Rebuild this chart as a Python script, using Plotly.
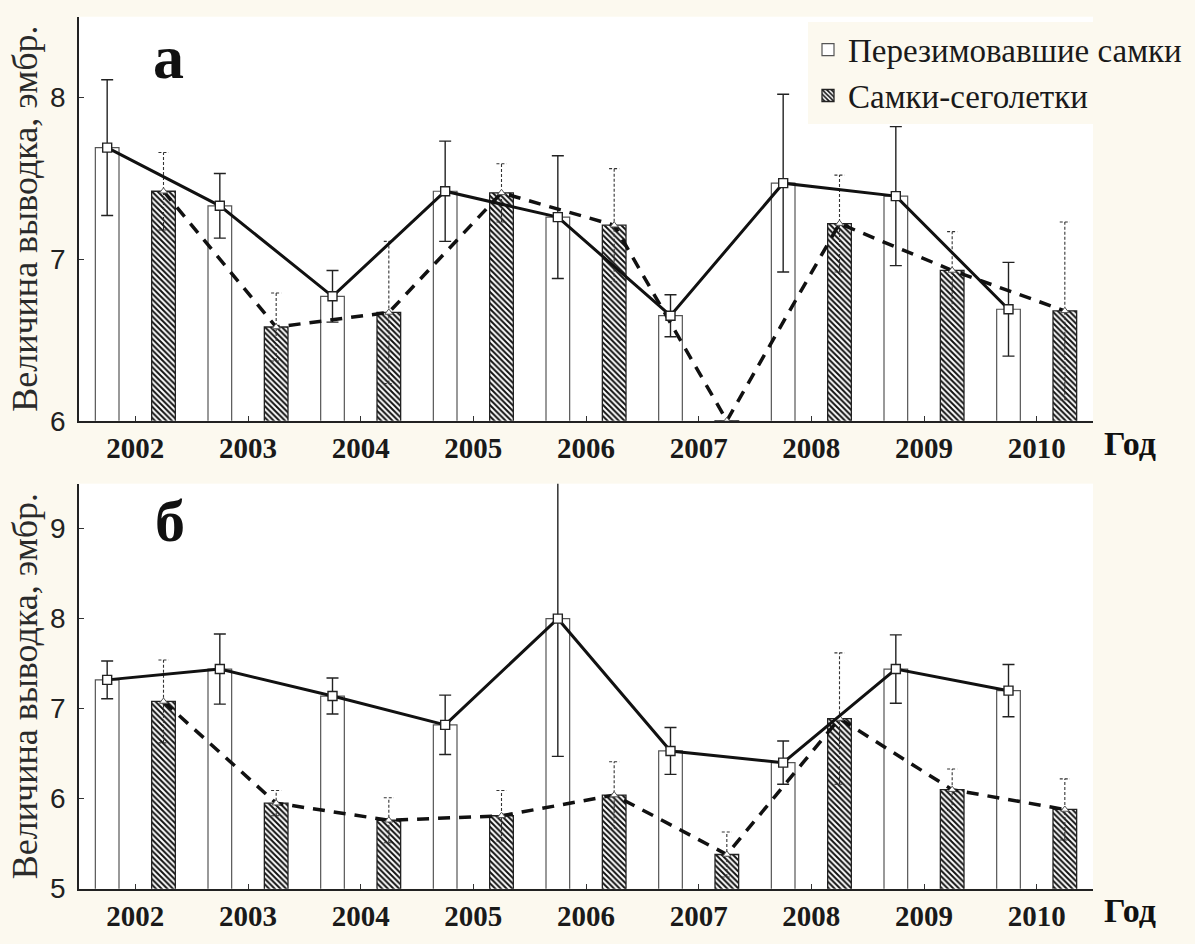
import plotly.graph_objects as go

# ---------------- data ----------------
years = ["2002", "2003", "2004", "2005", "2006", "2007", "2008", "2009", "2010"]

# panel a
a_over_mean = [7.69, 7.33, 6.77, 7.42, 7.26, 6.65, 7.47, 7.39, 6.69]
a_over_err = [0.42, 0.20, 0.16, 0.31, 0.38, 0.13, 0.55, 0.43, 0.29]
a_young_mean = [7.42, 6.58, 6.67, 7.41, 7.21, 6.00, 7.22, 6.93, 6.68]
a_young_err = [0.24, 0.21, 0.44, 0.18, 0.35, 0.00, 0.30, 0.24, 0.55]

# panel b
b_over_mean = [7.32, 7.44, 7.14, 6.82, 8.00, 6.53, 6.40, 7.44, 7.20]
b_over_err = [0.21, 0.39, 0.20, 0.33, 1.53, 0.26, 0.24, 0.38, 0.29]
b_young_mean = [7.08, 5.95, 5.76, 5.81, 6.04, 5.38, 6.89, 6.10, 5.88]
b_young_err = [0.46, 0.14, 0.25, 0.28, 0.37, 0.25, 0.73, 0.23, 0.34]

name_over = "Перезимовавшие самки"
name_young = "Самки-сеголетки"

# ---------------- style ----------------
W, H = 1195, 944
ML, MR = 79, 102
PW = W - ML - MR
PAPER = "#fcf9ef"
SERIF = "Liberation Serif, Times New Roman, serif"
SANS = "Liberation Sans, Arial, sans-serif"
OFF = 0.25
BW = 0.21
CAP = 0.045

idx = list(range(len(years)))
x_over = [i - OFF for i in idx]
x_young = [i + OFF for i in idx]


def dashed_err(xs, means, errs):
    px, py = [], []
    for x, m, e in zip(xs, means, errs):
        if e <= 0:
            continue
        px += [x, x, None, x - CAP, x + CAP, None, x - CAP, x + CAP, None]
        py += [m - e, m + e, None, m + e, m + e, None, m - e, m - e, None]
    return px, py


fig = go.Figure()

panels = [
    ("x", "y", a_over_mean, a_over_err, a_young_mean, a_young_err, True),
    ("x2", "y2", b_over_mean, b_over_err, b_young_mean, b_young_err, False),
]

for xa, ya, om, oe, ym, ye, show in panels:
    fig.add_trace(go.Bar(
        x=x_over, y=om, width=BW, xaxis=xa, yaxis=ya,
        name=name_over, showlegend=show, legendrank=1,
        marker=dict(color="white", line=dict(color="#555555", width=1.2)),
        error_y=dict(type="data", array=oe, visible=True, color="#222222",
                     thickness=1.4, width=6),
    ))
    fig.add_trace(go.Bar(
        x=x_young, y=ym, width=BW, xaxis=xa, yaxis=ya,
        name=name_young, showlegend=show, legendrank=2,
        marker=dict(color="white", line=dict(color="#222222", width=1.3),
                    pattern=dict(shape="\\", fgcolor="#111111", bgcolor="white",
                                 size=4, solidity=0.5, fillmode="replace")),
    ))
    ex, ey = dashed_err(x_young, ym, ye)
    fig.add_trace(go.Scatter(
        x=ex, y=ey, xaxis=xa, yaxis=ya, mode="lines", showlegend=False,
        line=dict(color="#333333", width=1.1, dash="3px,2px"), hoverinfo="skip",
    ))
    fig.add_trace(go.Scatter(
        x=x_young, y=ym, xaxis=xa, yaxis=ya, mode="lines+markers", showlegend=False,
        line=dict(color="#111111", width=3.5, dash="12px,9px"),
        marker=dict(symbol="triangle-up", size=7, color="white",
                    line=dict(color="#555555", width=1)),
    ))
    fig.add_trace(go.Scatter(
        x=x_over, y=om, xaxis=xa, yaxis=ya, mode="lines+markers", showlegend=False,
        line=dict(color="#111111", width=3),
        marker=dict(symbol="square", size=9, color="white",
                    line=dict(color="#222222", width=1.4)),
    ))

xcommon = dict(
    range=[-0.5, 8.5], tickmode="array", tickvals=idx, ticktext=years,
    showline=True, linecolor="#222222", linewidth=1.5, ticks="inside",
    ticklen=5, tickcolor="#333333", showgrid=False, zeroline=False,
    tickfont=dict(family=SERIF, size=29, color="#1a1a1a", weight="bold"),
    ticklabelstandoff=1,
)
ycommon = dict(
    showline=True, linecolor="#222222", linewidth=1.5, ticks="inside",
    ticklen=5, tickcolor="#333333", showgrid=False, zeroline=False,
    tickfont=dict(family=SANS, size=28, color="#222222"),
    ticklabelstandoff=6,
)

top_dom = [(H - 428) / H, (H - 17) / H]
bot_dom = [(H - 904) / H, (H - 492) / H]

fig.update_layout(
    width=W, height=H,
    margin=dict(l=ML, r=MR, t=0, b=0),
    paper_bgcolor=PAPER, plot_bgcolor="white",
    barmode="overlay",
    xaxis=dict(**xcommon, anchor="y"),
    yaxis=dict(**ycommon, domain=top_dom, range=[6, 8.5], tickvals=[6, 7, 8], anchor="x"),
    xaxis2=dict(**xcommon, anchor="y2"),
    yaxis2=dict(**ycommon, domain=bot_dom, range=[5, 9.5], tickvals=[5, 6, 7, 8, 9], anchor="x2"),
    legend=dict(
        x=(808 - ML) / PW, y=(H - 22) / H, xanchor="left", yanchor="top",
        font=dict(family=SERIF, size=33, color="#1a1a1a"),
        bgcolor=PAPER, borderwidth=0, tracegroupgap=0,
        itemwidth=30,
    ),
    showlegend=True,
)

ytitle = "Величина выводка, эмбр."
annotations = [
    dict(text=ytitle, xref="paper", yref="paper", x=(25 - ML) / PW,
         y=(top_dom[0] + top_dom[1]) / 2, textangle=-90, showarrow=False,
         xanchor="center", yanchor="middle",
         font=dict(family=SERIF, size=36, color="#2a2a2a")),
    dict(text=ytitle, xref="paper", yref="paper", x=(25 - ML) / PW,
         y=(bot_dom[0] + bot_dom[1]) / 2, textangle=-90, showarrow=False,
         xanchor="center", yanchor="middle",
         font=dict(family=SERIF, size=36, color="#2a2a2a")),
    dict(text="<b>а</b>", xref="paper", yref="paper", x=(168 - ML) / PW,
         y=(H - 58) / H, showarrow=False, xanchor="center", yanchor="middle",
         font=dict(family=SERIF, size=62, color="#111111")),
    dict(text="<b>б</b>", xref="paper", yref="paper", x=(170 - ML) / PW,
         y=(H - 530) / H, showarrow=False, xanchor="center", yanchor="middle",
         font=dict(family=SERIF, size=60, color="#111111")),
    dict(text="<b>Год</b>", xref="paper", yref="paper", x=(1130 - ML) / PW,
         y=(H - 451) / H, showarrow=False, xanchor="center", yanchor="middle",
         font=dict(family=SERIF, size=34, color="#111111")),
    dict(text="<b>Год</b>", xref="paper", yref="paper", x=(1130 - ML) / PW,
         y=(H - 926) / H, showarrow=False, xanchor="center", yanchor="middle",
         font=dict(family=SERIF, size=34, color="#111111")),
]
fig.update_layout(annotations=annotations)

fig.write_html("out.html")
